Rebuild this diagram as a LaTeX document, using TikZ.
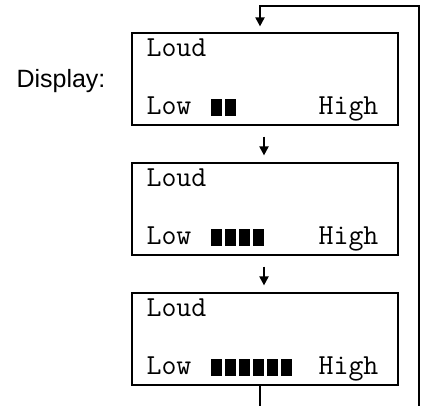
\documentclass[tikz,border=0pt]{standalone}
\usepackage{fontspec}
\setmainfont{Liberation Sans}
\usetikzlibrary{arrows.meta,calc}
\begin{document}
\begin{tikzpicture}[x=1pt,y=-1pt,
 lcd/.style={draw,line width=1.2pt,minimum width=266pt,minimum height=92pt,inner sep=0pt},
 txt/.style={font=\ttfamily\fontsize{29}{29}\selectfont,inner sep=0pt},
 lbl/.style={font=\fontsize{25}{25}\selectfont,inner sep=0pt},
 flow/.style={line width=2pt,-{Triangle[length=9pt,width=9pt]}},
 loopline/.style={line width=2pt,-{Triangle[length=9pt,width=9pt]}},
 barfill/.style={fill=black}]
\useasboundingbox (0,0) rectangle (421,405);
\clip (0,0) rectangle (421,405);
\node[lbl,anchor=base] (disp) at (61,87) {Display:};
\foreach \n/\y/\k in {b1/79/2,b2/209/4,b3/339/6}{
  \node[lcd] (\n) at (265,\y) {};
  \node[txt,anchor=base west] (\n loud) at ($(\n.north west)+(15,24)$) {Loud};
  \node[txt,anchor=base west] (\n low) at ($(\n.south west)+(15,-11)$) {Low};
  \node[txt,anchor=base east] (\n high) at ($(\n.south east)+(-20,-11)$) {High};
  \foreach \i in {1,...,\k}{
    \fill[barfill] ($(\n.south west)+(80+14*\i-14,-10)$) rectangle ++(11,-17);
  }
}
\draw[flow] ([xshift=-1pt,yshift=-11pt]b1.south) -- ([xshift=-1pt,yshift=7pt]b2.north);
\draw[flow] ([xshift=-1pt,yshift=-11pt]b2.south) -- ([xshift=-1pt,yshift=7pt]b3.north);
\coordinate (bot) at (419,430);
\coordinate (top) at (419,6);
\draw[loopline] ([xshift=-5pt]b3.south) |- (bot) -- (top) -| ([xshift=-5pt,yshift=6pt]b1.north);
\end{tikzpicture}
\end{document}
